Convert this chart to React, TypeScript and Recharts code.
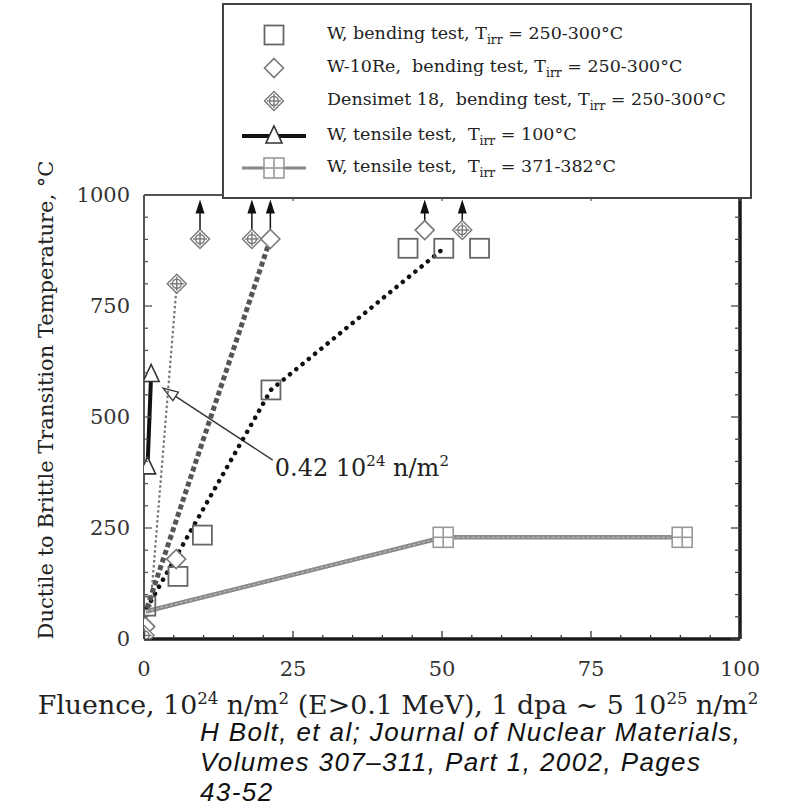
import React from "react";
import { ScatterChart, Scatter, XAxis, YAxis, ReferenceLine, Legend } from "recharts";

// fluence (10^24 n/m^2) vs DBTT (°C)
const wBendFluence = [0.3, 5.7, 9.8, 21.3, 44.3, 50.3, 56.3];
const wBendDbtt = [74, 141, 234, 561, 880, 880, 880];

const wReFluence = [0.2, 5.4, 21.2, 47.1];
const wReDbtt = [28, 180, 901, 921];

const densFluence = [0.1, 5.5, 9.4, 18.1, 53.4];
const densDbtt = [8, 800, 901, 901, 921];

const tensColdFluence = [0.6, 1.2];
const tensColdDbtt = [390, 598];

const tensHotFluence = [0.3, 50.2, 90.3];
const tensHotDbtt = [62, 229, 229];

// hand drawn trend lines
const trendWFluence = [0.5, 21.3, 50.3];
const trendWDbtt = [70, 561, 880];
const trendReFluence = [0.5, 21.2];
const trendReDbtt = [70, 901];
const trendDensFluence = [1.0, 5.5];
const trendDensDbtt = [60, 800];

// lower bounds: arrows up to the frame
const arrowFluence = [9.4, 18.1, 21.2, 47.1, 53.4];
const arrowFromDbtt = [921, 921, 921, 941, 941];
const arrowToDbtt = 990;

// pointer for the 0.42 10^24 n/m^2 note
const noteFrom = { x: 21.6, y: 403 };
const noteTo = { x: 3.2, y: 565 };

const xTicks = [0, 5, 10, 15, 20, 25, 30, 35, 40, 45, 50, 55, 60, 65, 70, 75, 80, 85, 90, 95, 100];
const xLabelTicks = [0, 25, 50, 75, 100];
const yTicks = [0, 50, 100, 150, 200, 250, 300, 350, 400, 450, 500, 550, 600, 650, 700, 750, 800, 850, 900, 950, 1000];
const yLabelTicks = [0, 250, 500, 750, 1000];

const legendNames = [
    "W, bending test, ",
    "W-10Re,  bending test, ",
    "Densimet 18,  bending test, ",
    "W, tensile test,  ",
    "W, tensile test,  ",
];
const legendTemps = ["250-300°C", "250-300°C", "250-300°C", "100°C", "371-382°C"];

const SERIF = "'DejaVu Serif', serif";

const pts = (xs: number[], ys: number[]) => xs.map((x, i) => ({ x, y: ys[i] }));

// markers
const Square = ({ cx, cy }: any) => (
    <rect x={cx - 9.5} y={cy - 9.5} width={19} height={19} fill="none" stroke="#666" strokeWidth={1.8} />
);
const Diamond = ({ cx, cy }: any) => (
    <path d={`M${cx},${cy - 9.5}L${cx + 9.5},${cy}L${cx},${cy + 9.5}L${cx - 9.5},${cy}Z`} fill="#fff" stroke="#777" strokeWidth={1.6} />
);
const Dens = ({ cx, cy }: any) => (
    <g stroke="#777" strokeWidth={1.4} fill="#fff">
        <path d={`M${cx},${cy - 9.5}L${cx + 9.5},${cy}L${cx},${cy + 9.5}L${cx - 9.5},${cy}Z`} />
        <circle cx={cx} cy={cy} r={4.5} />
        <line x1={cx - 7} x2={cx + 7} y1={cy} y2={cy} />
        <line x1={cx} x2={cx} y1={cy - 7} y2={cy + 7} />
    </g>
);
const Tri = ({ cx, cy }: any) => (
    <path d={`M${cx},${cy - 9}L${cx + 8},${cy + 8}L${cx - 8},${cy + 8}Z`} fill="#fff" stroke="#333" strokeWidth={1.6} />
);
const XSquare = ({ cx, cy }: any) => (
    <g stroke="#999" strokeWidth={1.6} fill="#fff">
        <rect x={cx - 10} y={cy - 10} width={20} height={20} />
        <line x1={cx - 10} x2={cx + 10} y1={cy} y2={cy} />
        <line x1={cx} x2={cx} y1={cy - 10} y2={cy + 10} />
    </g>
);
const Nothing = () => <g />;

// ticks drawn inward, labels outside
const BottomTick = ({ x, y, payload }: any) => {
    const major = xLabelTicks.includes(payload.value);
    return (
        <g>
            <line x1={x} x2={x} y1={y} y2={y - (major ? 8 : 4)} stroke="#333" strokeWidth={1.3} />
            {major && (
                <text x={x} y={y + 30} dy="0.35em" textAnchor="middle" fontFamily={SERIF} fontSize={21} fill="#333">
                    {payload.value}
                </text>
            )}
        </g>
    );
};
const TopTick = ({ x, y }: any) => <line x1={x} x2={x} y1={y} y2={y + 6} stroke="#555" strokeWidth={1.3} />;
const LeftTick = ({ x, y, payload }: any) => {
    const major = yLabelTicks.includes(payload.value);
    return (
        <g>
            <line x1={x} x2={x + (major ? 8 : 4)} y1={y} y2={y} stroke="#555" strokeWidth={1.3} />
            {major && (
                <text x={x - 14} y={y} dy="0.35em" textAnchor="end" fontFamily={SERIF} fontSize={21} fill="#333">
                    {payload.value}
                </text>
            )}
        </g>
    );
};
const RightTick = ({ x, y, payload }: any) => {
    const major = yLabelTicks.includes(payload.value);
    return <line x1={x} x2={x - (major ? 9 : 5)} y1={y} y2={y} stroke="#444" strokeWidth={1.3} />;
};

const UpArrow = ({ x1, y1, x2, y2 }: any) => (
    <g>
        <line x1={x1} y1={y1} x2={x2} y2={y2 + 12} stroke="#111" strokeWidth={1.5} />
        <path d={`M${x2},${y2}L${x2 + 4.5},${y2 + 14}L${x2 - 4.5},${y2 + 14}Z`} fill="#111" />
    </g>
);

const NotePointer = ({ x1, y1, x2, y2 }: any) => {
    const ang = Math.atan2(y2 - y1, x2 - x1);
    const len = 15;
    const half = 5;
    const bx = x2 - len * Math.cos(ang);
    const by = y2 - len * Math.sin(ang);
    const px = -Math.sin(ang) * half;
    const py = Math.cos(ang) * half;
    return (
        <g>
            <line x1={x1} y1={y1} x2={bx} y2={by} stroke="#333" strokeWidth={1.4} />
            <path d={`M${x2},${y2}L${bx + px},${by + py}L${bx - px},${by - py}Z`} fill="#fff" stroke="#333" strokeWidth={1.3} />
            <text x={x1 + 2} y={y1 + 16} fontFamily={SERIF} fontSize={24} fill="#222">
                0.42 10<tspan dy={-10} fontSize={15}>24</tspan>
                <tspan dy={10}> n/m</tspan>
                <tspan dy={-10} fontSize={15}>2</tspan>
            </text>
        </g>
    );
};

const legendSymbols = [
    <Square cx={50} cy={15} />,
    <Diamond cx={50} cy={15} />,
    <Dens cx={50} cy={15} />,
    <g>
        <line x1={18} x2={82} y1={15} y2={15} stroke="#111" strokeWidth={4} />
        <Tri cx={50} cy={14} />
    </g>,
    <g>
        <line x1={18} x2={82} y1={15} y2={15} stroke="#888" strokeWidth={3} />
        <XSquare cx={50} cy={15} />
    </g>,
];
const legendRowTops = [15, 48, 81, 116, 148];

const LegendBox = () => (
    <div
        style={{
            width: 530,
            height: 196,
            boxSizing: "border-box",
            border: "2px solid #444",
            background: "#fff",
            position: "relative",
            fontFamily: SERIF,
            fontSize: 17.5,
            color: "#222",
        }}
    >
        {legendNames.map((name, i) => (
            <div key={i} style={{ position: "absolute", left: 0, top: legendRowTops[i], height: 30, display: "flex", alignItems: "center", whiteSpace: "pre" }}>
                <svg width={103} height={30}>{legendSymbols[i]}</svg>
                <span>
                    {name}T<sub style={{ fontSize: "0.7em" }}>irr</sub> = {legendTemps[i]}
                </span>
            </div>
        ))}
    </div>
);

const supStyle = { fontSize: "0.62em", lineHeight: 0 };

export default function App() {
    return (
        <div style={{ position: "absolute", left: 0, top: 0, width: 787, height: 812, background: "#fff", overflow: "hidden" }}>
            <ScatterChart width={787} height={812} margin={{ top: 190, right: 42, bottom: 133, left: 0 }}>
                <XAxis xAxisId="top" orientation="top" type="number" dataKey="x" domain={[0, 100]} ticks={xLabelTicks} interval={0}
                    tick={TopTick} tickLine={false} tickSize={0} tickMargin={0} height={5} allowDataOverflow
                    axisLine={{ stroke: "#555", strokeWidth: 2 }} />
                <XAxis type="number" dataKey="x" domain={[0, 100]} ticks={xTicks} interval={0}
                    tick={BottomTick} tickLine={false} tickSize={0} tickMargin={0} height={40} allowDataOverflow
                    axisLine={{ stroke: "#1a1a1a", strokeWidth: 3.5 }} />
                <YAxis type="number" dataKey="y" domain={[0, 1000]} ticks={yTicks} interval={0}
                    tick={LeftTick} tickLine={false} tickSize={0} tickMargin={0} width={144} allowDataOverflow
                    axisLine={{ stroke: "#555", strokeWidth: 2 }} />
                <YAxis yAxisId="right" orientation="right" type="number" dataKey="y" domain={[0, 1000]} ticks={yTicks} interval={0}
                    tick={RightTick} tickLine={false} tickSize={0} tickMargin={0} width={5} allowDataOverflow
                    axisLine={{ stroke: "#1a1a1a", strokeWidth: 3.5 }} />

                {/* trend lines */}
                <Scatter data={pts(trendDensFluence, trendDensDbtt)} shape={Nothing} isAnimationActive={false}
                    line={{ stroke: "#777", strokeWidth: 2.2, strokeDasharray: "2.5 2.5" }} />
                <Scatter data={pts(trendWFluence, trendWDbtt)} shape={Nothing} isAnimationActive={false}
                    line={{ stroke: "#111", strokeWidth: 4.5, strokeDasharray: "0.1 8", strokeLinecap: "round" }} />
                <Scatter data={pts(trendReFluence, trendReDbtt)} shape={Nothing} isAnimationActive={false}
                    line={{ stroke: "#555", strokeWidth: 5, strokeDasharray: "5 3" }} />
                <Scatter data={pts(tensHotFluence, tensHotDbtt)} shape={Nothing} isAnimationActive={false}
                    line={{ stroke: "#8a8a8a", strokeWidth: 4.5 }} />
                <Scatter data={pts(tensHotFluence, tensHotDbtt)} shape={Nothing} isAnimationActive={false}
                    line={{ stroke: "#c4c4c4", strokeWidth: 1, strokeDasharray: "3 2" }} />
                <Scatter data={pts(tensColdFluence, tensColdDbtt)} shape={Nothing} isAnimationActive={false}
                    line={{ stroke: "#111", strokeWidth: 4 }} />

                {arrowFluence.map((x, i) => (
                    <ReferenceLine key={i} segment={[{ x, y: arrowFromDbtt[i] }, { x, y: arrowToDbtt }]} shape={UpArrow} />
                ))}
                <ReferenceLine segment={[noteFrom, noteTo]} shape={NotePointer} />

                {/* markers */}
                <Scatter name="W, bending test" data={pts(wBendFluence, wBendDbtt)} shape={Square} isAnimationActive={false} />
                <Scatter name="W-10Re, bending test" data={pts(wReFluence, wReDbtt)} shape={Diamond} isAnimationActive={false} />
                <Scatter name="Densimet 18, bending test" data={pts(densFluence, densDbtt)} shape={Dens} isAnimationActive={false} />
                <Scatter name="W, tensile test 100" data={pts(tensColdFluence, tensColdDbtt)} shape={Tri} isAnimationActive={false} />
                <Scatter name="W, tensile test 371-382" data={pts(tensHotFluence, tensHotDbtt).slice(1)} shape={XSquare} isAnimationActive={false} />

                <Legend layout="vertical" align="center" verticalAlign="middle" content={LegendBox}
                    wrapperStyle={{ left: 222, top: 3, width: 530, height: 196 }} />
            </ScatterChart>

            <div style={{ position: "absolute", left: 46, top: 400, transform: "translate(-50%, -50%) rotate(-90deg)", whiteSpace: "nowrap", fontFamily: SERIF, fontSize: 21, color: "#222" }}>
                Ductile to Brittle Transition Temperature, °C
            </div>
            <div style={{ position: "absolute", left: 398, top: 690, transform: "translateX(-50%)", whiteSpace: "nowrap", fontFamily: SERIF, fontSize: 26.8, lineHeight: "30px", color: "#222" }}>
                Fluence, 10<sup style={supStyle}>24</sup> n/m<sup style={supStyle}>2</sup> (E&gt;0.1 MeV), 1 dpa ~ 5 10<sup style={supStyle}>25</sup> n/m<sup style={supStyle}>2</sup>
            </div>
            <div style={{ position: "absolute", left: 200, top: 717, whiteSpace: "nowrap", fontFamily: "'Liberation Sans', Arial, sans-serif", fontStyle: "italic", fontSize: 26, letterSpacing: 1.4, lineHeight: "30px", color: "#111" }}>
                H Bolt, et al; Journal of Nuclear Materials,<br />
                Volumes 307–311, Part 1, 2002, Pages<br />
                43-52
            </div>
        </div>
    );
}
